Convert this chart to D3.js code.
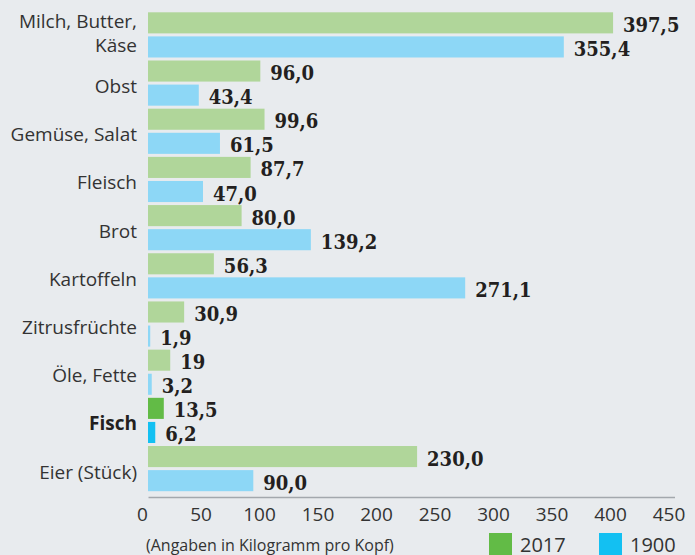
<!DOCTYPE html>
<html>
    <head>
        <meta charset="utf-8">
        <title>Verbrauch pro Kopf 1900 / 2017</title>
        <script src="https://cdn.jsdelivr.net/npm/d3@7"></script>
        <style>
            body { margin: 0; background: #e8ebee; }
            .cat { font-family: "Open Sans", sans-serif; font-size: 19px; fill: #333; }
            .val { font-family: "DejaVu Serif Condensed", "DejaVu Serif", serif; font-stretch: condensed;
                   font-weight: bold; font-size: 20px; fill: #231f20; }
        </style>
    </head>
    <body>
        <div id="chart"></div>
        <script>
            var width = 695, height = 555;

            // categories (top to bottom), "|" = line break
            const categories = ["Milch, Butter,|Käse", "Obst", "Gemüse, Salat", "Fleisch", "Brot",
                "Kartoffeln", "Zitrusfrüchte", "Öle, Fette", "Fisch", "Eier (Stück)"];
            // printed values, kg per head
            const values2017 = ["397,5", "96,0", "99,6", "87,7", "80,0", "56,3", "30,9", "19", "13,5", "230,0"];
            const values1900 = ["355,4", "43,4", "61,5", "47,0", "139,2", "271,1", "1,9", "3,2", "6,2", "90,0"];
            const xTicks = [0, 50, 100, 150, 200, 250, 300, 350, 400, 450];
            const series = ["2017", "1900"];
            const highlight = "Fisch";

            var num = function (s) { return +s.replace(",", "."); };

            var colors = {
                "2017": { normal: "#b0d69a", strong: "#62bb46" },
                "1900": { normal: "#8dd7f6", strong: "#13c0f2" }
            };

            var svg = d3.select("#chart")
                .append("svg")
                .attr("width", width)
                .attr("height", height);

            svg.append("rect")
                .attr("width", width)
                .attr("height", height)
                .attr("fill", "#e8ebee");

            var x = d3.scaleLinear()
                .domain([0, 450])
                .range([148, 674.5]);

            var y = d3.scaleBand()
                .domain(categories)
                .range([10.8, 492.7]);

            var ySub = d3.scaleBand()
                .domain(series)
                .range([0, y.bandwidth()])
                .paddingInner(0.125)
                .paddingOuter(0.0625);

            var rows = categories.map(function (c, i) {
                return { cat: c, vals: { "2017": values2017[i], "1900": values1900[i] } };
            });

            var group = svg.selectAll("g.row")
                .data(rows)
                .enter()
                .append("g")
                .attr("class", "row")
                .attr("transform", function (d) { return "translate(0," + y(d.cat) + ")"; });

            var bars = group.selectAll("g.bar")
                .data(function (d) {
                    return series.map(function (s) {
                        return { cat: d.cat, s: s, label: d.vals[s], v: num(d.vals[s]) };
                    });
                })
                .enter()
                .append("g")
                .attr("class", "bar");

            bars.append("rect")
                .attr("x", x(0))
                .attr("y", function (d) { return ySub(d.s); })
                .attr("width", function (d) { return x(d.v) - x(0); })
                .attr("height", ySub.bandwidth())
                .attr("fill", function (d) {
                    return d.cat === highlight ? colors[d.s].strong : colors[d.s].normal;
                });

            bars.append("text")
                .attr("class", "val")
                .attr("x", function (d) { return x(d.v) + 10; })
                .attr("y", function (d) { return ySub(d.s) + ySub.bandwidth() - 1.5; })
                .text(function (d) { return d.label; });

            // category labels
            group.each(function (d) {
                var lines = d.cat.split("|");
                var mid = y.bandwidth() / 2;
                var t = d3.select(this).append("text")
                    .attr("class", "cat")
                    .attr("text-anchor", "end")
                    .style("font-weight", d.cat === highlight ? "bold" : null)
                    .style("fill", d.cat === highlight ? "#231f20" : null);
                lines.forEach(function (l, i) {
                    var base = lines.length === 1 ? mid + 10 : mid - 6.5 + i * 23.4;
                    t.append("tspan").attr("x", 137).attr("y", base).text(l);
                });
            });

            // x axis
            var xAxis = d3.axisBottom(x)
                .tickValues(xTicks)
                .tickSize(0)
                .tickPadding(10.5);

            var ax = svg.append("g")
                .attr("transform", "translate(0,497)")
                .call(xAxis);
            ax.select(".domain")
                .attr("stroke", "#a3a8ad")
                .attr("stroke-width", 1.5);
            ax.selectAll("text")
                .attr("dx", -6)
                .attr("font-family", "Open Sans, sans-serif")
                .attr("font-size", 19)
                .attr("fill", "#333");

            svg.append("text")
                .attr("x", 146)
                .attr("y", 551)
                .attr("font-family", "Open Sans, sans-serif")
                .attr("font-size", 16)
                .attr("fill", "#333")
                .text("(Angaben in Kilogramm pro Kopf)");

            // legend
            var legendX = d3.scalePoint().domain(series).range([489, 599]);
            var leg = svg.selectAll("g.legend")
                .data(series)
                .enter()
                .append("g")
                .attr("class", "legend")
                .attr("transform", function (d) { return "translate(" + legendX(d) + ",533)"; });
            leg.append("rect")
                .attr("width", 23)
                .attr("height", 23)
                .attr("fill", function (d) { return colors[d].strong; });
            leg.append("text")
                .attr("x", 31)
                .attr("y", 18.5)
                .attr("font-family", "Open Sans, sans-serif")
                .attr("font-size", 20)
                .attr("fill", "#333")
                .text(function (d) { return d; });
        </script>
    </body>
</html>
